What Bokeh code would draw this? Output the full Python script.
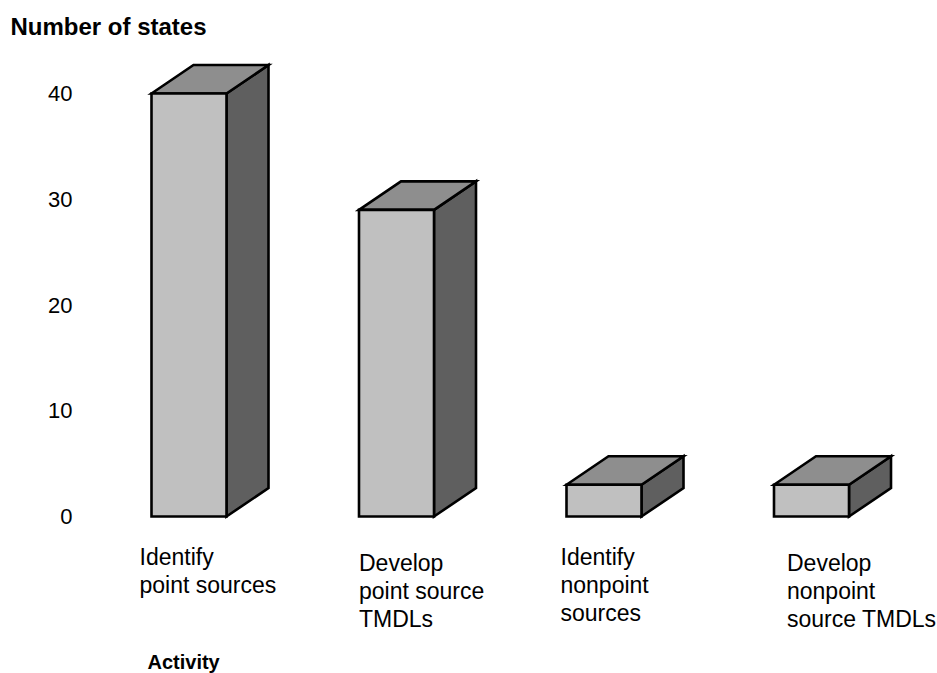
from bokeh.plotting import figure
from bokeh.models import Range1d, ColumnDataSource
from bokeh.core.properties import value
from bokeh.embed import file_html
from bokeh.resources import INLINE

# ---- data ----
categories = ["Identify\npoint sources",
              "Develop\npoint source\nTMDLs",
              "Identify\nnonpoint\nsources",
              "Develop\nnonpoint\nsource TMDLs"]
states = [40, 29, 3, 3]
y_ticks = [0, 10, 20, 30, 40]
y_tick_labels = ["0", "10", "20", "30", "40"]
y_title = "Number of states"
x_title = "Activity"

# ---- layout constants (pixels) ----
W, H = 937, 673
PX_PER_UNIT = 10.575
ZERO_PX = 516
STEP_PX = 207.5
FIRST_CENTER_PX = 188.5
HALF_W_PX = 37.5
DEPTH_X_PX = 42
DEPTH_Y_PX = 28.5
FONT = "Liberation Sans"

y_start = -(H - ZERO_PX) / PX_PER_UNIT
y_end = ZERO_PX / PX_PER_UNIT
x_start = -FIRST_CENTER_PX / STEP_PX
x_end = x_start + W / STEP_PX

def py(pix_y):
    return (ZERO_PX - pix_y) / PX_PER_UNIT

def px(pix_x):
    return x_start + pix_x / STEP_PX

p = figure(width=W, height=H, output_backend="svg", toolbar_location=None,
           x_range=Range1d(x_start, x_end), y_range=Range1d(y_start, y_end),
           x_axis_location=None, y_axis_location=None,
           min_border_left=0, min_border_right=0,
           min_border_top=0, min_border_bottom=0)
p.outline_line_color = None
p.grid.visible = False
p.background_fill_color = "white"
p.border_fill_color = "white"

hw = HALF_W_PX / STEP_PX
dx = DEPTH_X_PX / STEP_PX
dy = DEPTH_Y_PX / PX_PER_UNIT

idx = list(range(len(states)))
left = [i - hw for i in idx]
right = [i + hw for i in idx]

side_xs = [[r, r + dx, r + dx, r] for r in right]
side_ys = [[0, dy, v + dy, v] for v in states]
top_xs = [[l, l + dx, r + dx, r] for l, r in zip(left, right)]
top_ys = [[v, v + dy, v + dy, v] for v in states]

LW = 2.6
p.patches(side_xs, side_ys, fill_color="#5f5f5f", line_color="black",
          line_width=LW, line_join="miter")
p.patches(top_xs, top_ys, fill_color="#8e8e8e", line_color="black",
          line_width=LW, line_join="miter")
p.quad(left=left, right=right, bottom=[0] * len(states), top=states,
       fill_color="#c0c0c0", line_color="black", line_width=LW, line_join="miter")

# y tick labels (value axis)
p.text(x=[px(72)] * len(y_ticks), y=y_ticks, text=y_tick_labels,
       text_font=value(FONT), text_font_size="22px", text_color="black",
       text_align="right", text_baseline="middle")

# category labels
x_off = [-12, 0, -6, 13]
cap_top = [548, 554, 548, 554]
src = ColumnDataSource(dict(x=left, y=[py(c - 4.5) for c in cap_top],
                            text=categories, xo=x_off))
p.text(x="x", y="y", text="text", x_offset="xo", source=src,
       text_font=value(FONT), text_font_size="23px", text_color="black",
       text_baseline="top", text_align="left", text_line_height=1.085)

# titles
p.text(x=[px(10)], y=[py(26)], text=[y_title],
       text_font=value(FONT), text_font_size="24px", text_font_style="bold",
       text_color="black", text_baseline="middle", text_align="left")
p.text(x=[px(147)], y=[py(661)], text=[x_title],
       text_font=value(FONT), text_font_size="20px", text_font_style="bold",
       text_color="black", text_baseline="middle", text_align="left")

open("out.html", "w").write(file_html(p, INLINE))
